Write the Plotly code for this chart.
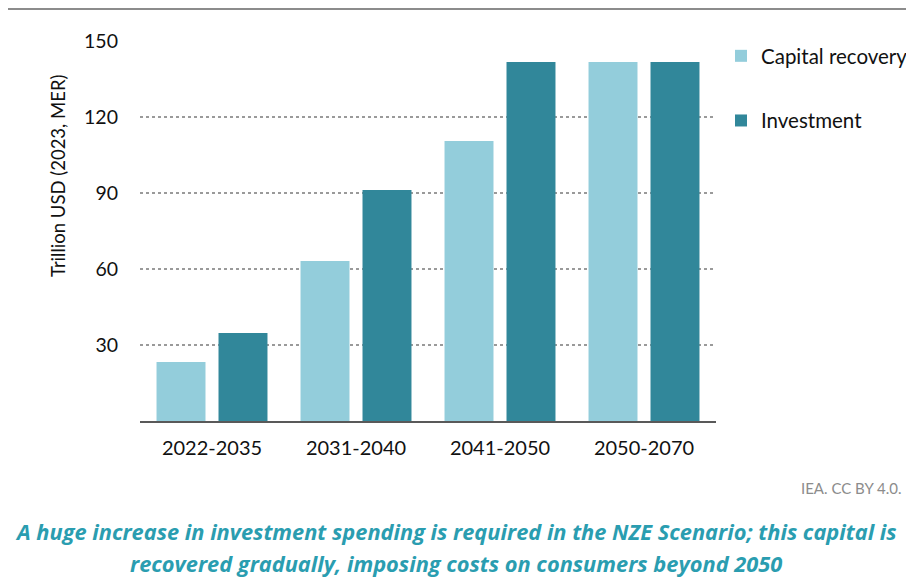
import plotly.graph_objects as go

# data
periods = ["2022-2035", "2031-2040", "2041-2050", "2050-2070"]
capital_recovery = [23.3, 63.2, 110.5, 141.7]
investment = [34.7, 91.2, 141.7, 141.7]
y_ticks = [30, 60, 90, 120, 150]

LIGHT = "#93cddb"
DARK = "#31879a"
TEAL_TEXT = "#2a9db0"
FONT = "Lato, 'Open Sans', sans-serif"

# the page body adds an 8px margin, so the figure is drawn 8px smaller
# and every reference pixel position is shifted by that offset
OFF = 8
W, H = 914 - 2 * OFF, 587 - 2 * OFF
L, R, T, B = 140 - OFF, 716 - OFF, 41 - OFF, 421 - OFF


def px_x(x):
    return (x - OFF - L) / (R - L)


def px_y(y):
    return (B - (y - OFF)) / (B - T)


fig = go.Figure()
fig.add_trace(go.Bar(
    x=periods, y=capital_recovery, name="Capital recovery",
    marker=dict(color=LIGHT, line=dict(width=0)), legendgroup="a",
))
fig.add_trace(go.Bar(
    x=periods, y=investment, name="Investment",
    marker=dict(color=DARK, line=dict(width=0)), legendgroup="b",
))

shapes = [
    # thin grey rule along the top of the page
    dict(type="line", xref="paper", yref="paper", x0=px_x(8), x1=px_x(914),
         y0=px_y(9), y1=px_y(9), line=dict(color="#8c8c8c", width=2), layer="below"),
]

caption_font = dict(family="'Open Sans', sans-serif", size=21.8, color=TEAL_TEXT,
                    weight="bold", style="italic")
annotations = [
    dict(text="Trillion USD (2023, MER)", textangle=-90, xref="paper", yref="paper",
         x=px_x(58), y=px_y(176), xanchor="center", yanchor="middle", showarrow=False,
         font=dict(family=FONT, size=18.5, color="#111")),
    dict(text="IEA. CC BY 4.0.", xref="paper", yref="paper", x=px_x(904), y=px_y(488),
         xanchor="right", yanchor="middle", showarrow=False,
         font=dict(family=FONT, size=15, color="#8c8c8c")),
    dict(text="A huge increase in investment spending is required in the NZE Scenario; this capital is",
         xref="paper", yref="paper", x=px_x(456), y=px_y(531), xanchor="center", yanchor="middle",
         showarrow=False, font=caption_font),
    dict(text="recovered gradually, imposing costs on consumers beyond 2050",
         xref="paper", yref="paper", x=px_x(456), y=px_y(563), xanchor="center", yanchor="middle",
         showarrow=False, font=caption_font),
]

fig.update_layout(
    width=W, height=H,
    margin=dict(l=L, r=W - R, t=T, b=H - B, autoexpand=False),
    paper_bgcolor="white", plot_bgcolor="rgba(0,0,0,0)",
    barmode="group", bargap=0.139, bargroupgap=0.21,
    font=dict(family=FONT, size=19, color="#111"),
    showlegend=True,
    legend=dict(xref="container", yref="container",
                x=(721 - OFF) / W, y=1 - (36 - OFF) / H, xanchor="left", yanchor="top",
                traceorder="grouped", tracegroupgap=35,
                font=dict(family=FONT, size=20.5, color="#111"),
                bgcolor="rgba(0,0,0,0)"),
    shapes=shapes, annotations=annotations,
)
fig.update_xaxes(showline=True, linecolor="#595959", linewidth=1.5,
                 ticks="", showgrid=False, ticklabelstandoff=8,
                 tickfont=dict(size=20))
fig.update_yaxes(range=[0, 150], tickvals=y_ticks, showline=False, zeroline=False,
                 showgrid=True, gridcolor="#9a9a9a", griddash="dot", gridwidth=1.5,
                 ticks="", ticklabelstandoff=21, tickfont=dict(size=19.5))

fig.write_html("out.html")
